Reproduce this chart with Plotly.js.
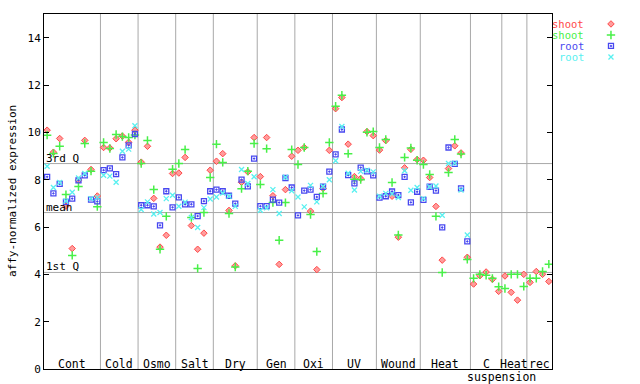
<!DOCTYPE html>
<html><head><meta charset="utf-8">
<script src="https://cdn.plot.ly/plotly-3.0.1.min.js"></script>
<style>html,body{margin:0;padding:0;background:#fff}#chart{width:640px;height:384px}</style>
</head><body><div id="chart"></div>
<script>
const categories = ['Cont','Cold','Osmo','Salt','Dry','Gen','Oxi','UV','Wound','Heat','C','Heat','rec'];
const categorySizes = [9,6,6,6,7,6,6,7,7,8,5,4,4];
const extraLabel = 'suspension';
const seriesNames = ['shoot','shoot','root','root'];
const quartileNames = ['3rd Q','mean','1st Q'];
const quartileValues = [8.68, 6.61, 4.08];
const yTicks = [0,2,4,6,8,10,12,14];

const shootRep1 = [10.09,9.16,9.74,6.88,5.09,7.98,9.66,8.43,7.31,
  9.36,9.34,9.73,9.84,9.58,10.09,
  8.74,9.41,7.21,5.15,5.65,8.26,
  8.28,8.94,6.06,5.06,5.74,8.4,
  8.78,9.1,6.7,4.36,7.89,8.33,9.78,
  8.13,9.78,7.32,4.42,7.58,8.99,
  9.24,9.36,6.67,4.2,7.63,9.24,
  11.0,11.47,9.5,8.13,8.05,10.03,9.86,
  9.25,9.65,7.3,5.57,8.5,9.28,8.85,
  8.82,8.09,6.87,4.6,8.47,9.43,9.13,4.72,
  3.59,3.94,4.1,3.79,3.28,
  3.93,3.24,2.91,4.0,
  3.66,4.12,4.0,3.7];
const shootRep2 = [9.88,9.11,9.41,7.37,4.8,7.71,9.53,8.36,6.86,
  9.57,9.32,9.91,9.82,9.78,9.89,
  8.68,9.66,7.58,5.06,6.45,8.44,
  8.68,9.27,6.4,4.25,6.61,8.09,
  9.5,8.73,6.57,4.31,7.62,8.36,9.53,
  7.8,9.31,7.03,5.44,7.03,9.27,
  8.64,9.36,6.53,4.96,7.42,9.57,
  11.1,11.57,9.1,8.02,8.0,10.0,10.03,
  9.36,9.7,7.88,5.66,8.94,9.34,8.82,
  8.64,8.22,6.45,4.08,8.3,9.7,9.08,4.63,
  3.83,4.0,3.96,3.83,3.48,
  3.4,4.0,4.0,3.49,
  3.83,3.83,4.12,4.43];
const rootRep1 = [8.12,7.42,7.82,7.06,7.2,7.97,8.18,7.16,7.08,
  8.4,8.48,8.23,8.94,9.45,9.93,
  6.92,6.92,6.87,6.07,7.51,6.83,
  7.25,6.96,6.96,6.46,7.09,7.51,
  7.58,7.51,7.32,6.99,8.0,7.72,8.89,
  6.88,6.88,7.16,7.03,8.07,7.67,
  6.49,7.54,7.58,7.27,7.7,8.34,
  9.07,10.12,8.19,7.84,8.51,8.35,8.18,
  7.24,7.3,7.5,7.35,8.12,7.04,7.49,
  7.15,7.7,7.54,5.98,9.36,8.67,7.63,5.39,
  null,null,null,null,null,
  null,null,null,null,
  null,null,null,null];
const rootRep2 = [8.57,7.67,7.88,7.1,7.47,8.07,8.26,7.2,7.24,
  8.19,8.15,7.89,9.2,9.29,10.28,
  6.74,7.06,6.55,6.61,7.2,7.34,
  6.88,7.05,6.4,5.98,6.82,7.18,
  7.27,7.44,7.3,6.87,8.43,7.84,8.12,
  6.71,6.81,7.58,6.57,8.1,7.53,
  7.27,6.85,7.76,7.06,7.72,8.0,
  8.8,10.25,8.27,7.56,8.35,8.4,8.33,
  7.3,7.42,7.4,7.25,8.38,7.55,7.67,
  7.2,7.7,7.73,6.5,8.68,8.7,7.56,5.66,
  null,null,null,null,null,
  null,null,null,null,
  null,null,null,null];

const seriesValues = [shootRep1, shootRep2, rootRep1, rootRep2];
const nSamples = categorySizes.reduce((a,b)=>a+b,0);
const xs = Array.from({length:nSamples},(_,i)=>i);

const colors = ['#ff4848','#48f048','#4848f0','#58f0f0'];
const markerStyles = [
  {symbol:'diamond', size:5, color:'#ff9c9c', line:{color:colors[0], width:1}},
  {symbol:'cross-thin-open', size:6, color:colors[1], line:{color:colors[1], width:1.5}},
  {symbol:'square-open-dot', size:5, color:colors[2], line:{color:colors[2], width:1.3}},
  {symbol:'x-thin-open', size:5, color:colors[3], line:{color:colors[3], width:1.3}}
];

const FONT = 'DejaVu Sans Mono, monospace';
const traces = seriesValues.map((vals,k)=>({
  type:'scatter', mode:'markers', x:xs, y:vals, name:seriesNames[k],
  marker:markerStyles[k], showlegend:false, hoverinfo:'skip', cliponaxis:false
}));

// legend markers
const legendTop = 14.58, legendStep = 0.465;
seriesNames.forEach((n,k)=>{
  traces.push({type:'scatter', mode:'markers', x:[0.5], y:[legendTop-k*legendStep],
    xaxis:'x2', yaxis:'y', marker:markerStyles[k], showlegend:false, hoverinfo:'skip', cliponaxis:false});
});

const shapes = [];
const annotations = [];
let start = 0;
const bounds = [];
categorySizes.forEach((s,i)=>{
  const center = start + (s-1)/2;
  annotations.push({x:center, xref:'x', y:0, yref:'paper', yanchor:'middle', yshift:5,
    text:categories[i], showarrow:false, font:{family:FONT, size:11.5, color:'#000'}});
  start += s;
  bounds.push(start-0.5);
});
bounds.slice(0,-1).forEach(b=>{
  shapes.push({type:'line', xref:'x', x0:b, x1:b, yref:'paper', y0:0, y1:1,
    line:{color:'#a8a8a8', width:1}, layer:'below'});
});
annotations.push({x:bounds[10], xref:'x', y:0, yref:'paper', yanchor:'middle', yshift:-8,
  text:extraLabel, showarrow:false, font:{family:FONT, size:11.5, color:'#000'}});

quartileValues.forEach((v,i)=>{
  shapes.push({type:'line', xref:'x', x0:-0.5, x1:nSamples-0.5, yref:'y', y0:v, y1:v,
    line:{color:'#a8a8a8', width:1}, layer:'below'});
  annotations.push({x:-0.5, xref:'x', xanchor:'left', y:v, yref:'y', yanchor:'bottom', yshift:-3,
    text:quartileNames[i], showarrow:false, font:{family:FONT, size:11, color:'#000'}});
});

seriesNames.forEach((n,k)=>{
  annotations.push({x:0.9077, xref:'paper', xanchor:'right', y:legendTop-k*legendStep, yref:'y',
    yanchor:'middle', borderpad:0, text:n, showarrow:false, font:{family:FONT, size:10.5, color:colors[k]}});
});

annotations.push({x:0, xref:'paper', xshift:-40, y:0.5, yref:'paper', textangle:-90,
  text:'affy-normalized expression', showarrow:false, font:{family:FONT, size:11, color:'#000'}});

const layout = {
  width:640, height:384,
  margin:{l:44, r:0, t:14, b:15},
  paper_bgcolor:'#fff', plot_bgcolor:'#fff',
  showlegend:false,
  xaxis:{domain:[0,0.8523], range:[-0.5,nSamples-0.5], showgrid:false, zeroline:false,
    showticklabels:false, ticks:'', showline:true, mirror:true, linecolor:'#000', linewidth:1, fixedrange:true},
  xaxis2:{domain:[0.93,0.9726], range:[0,1], visible:false, anchor:'y'},
  yaxis:{range:[0,15], tickvals:yTicks, ticks:'inside', ticklen:5, tickcolor:'#000',
    showgrid:false, zeroline:false, showline:true, mirror:'ticks', linecolor:'#000', linewidth:1,
    tickfont:{family:FONT, size:11, color:'#000'}, fixedrange:true},
  shapes:shapes, annotations:annotations
};
Plotly.newPlot('chart', traces, layout, {staticPlot:true, displayModeBar:false});
</script></body></html>
